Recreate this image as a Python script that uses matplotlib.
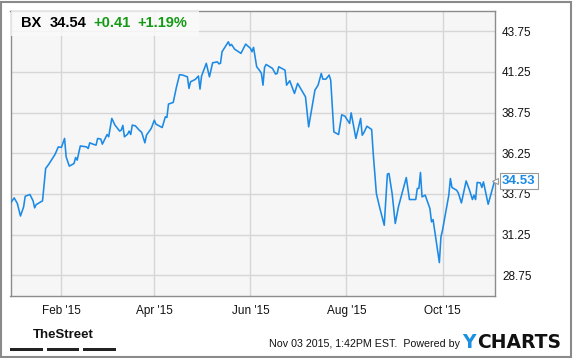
import matplotlib
matplotlib.use("Agg")
import matplotlib.pyplot as plt
import matplotlib.dates as mdates
import pandas as pd
from matplotlib.patches import Rectangle

# BX daily close
dates = [
    "2014-12-31", "2015-01-02", "2015-01-04", "2015-01-06", "2015-01-08", "2015-01-09",
    "2015-01-12", "2015-01-14", "2015-01-15", "2015-01-16", "2015-01-20", "2015-01-22",
    "2015-01-24", "2015-01-28", "2015-01-30", "2015-02-01", "2015-02-03", "2015-02-04",
    "2015-02-06", "2015-02-09", "2015-02-10", "2015-02-11", "2015-02-13", "2015-02-17",
    "2015-02-18", "2015-02-19", "2015-02-21", "2015-02-23", "2015-02-24", "2015-02-26",
    "2015-02-27", "2015-03-02", "2015-03-03", "2015-03-05", "2015-03-07", "2015-03-10",
    "2015-03-11", "2015-03-12", "2015-03-13", "2015-03-15", "2015-03-16", "2015-03-17",
    "2015-03-18", "2015-03-20", "2015-03-22", "2015-03-24", "2015-03-26", "2015-03-27",
    "2015-03-30", "2015-04-01", "2015-04-02", "2015-04-06", "2015-04-08", "2015-04-09",
    "2015-04-10", "2015-04-13", "2015-04-15", "2015-04-17", "2015-04-19", "2015-04-22",
    "2015-04-23", "2015-04-24", "2015-04-27", "2015-04-29", "2015-04-30", "2015-05-01",
    "2015-05-04", "2015-05-06", "2015-05-08", "2015-05-11", "2015-05-12", "2015-05-13",
    "2015-05-14", "2015-05-18", "2015-05-19", "2015-05-20", "2015-05-22", "2015-05-26",
    "2015-05-29", "2015-06-01", "2015-06-02", "2015-06-03", "2015-06-05", "2015-06-07",
    "2015-06-08", "2015-06-09", "2015-06-10", "2015-06-11", "2015-06-15", "2015-06-17",
    "2015-06-18", "2015-06-19", "2015-06-23", "2015-06-24", "2015-06-26", "2015-06-29",
    "2015-07-01", "2015-07-06", "2015-07-08", "2015-07-12", "2015-07-14", "2015-07-16",
    "2015-07-17", "2015-07-19", "2015-07-21", "2015-07-22", "2015-07-24", "2015-07-27",
    "2015-07-29", "2015-07-31", "2015-08-03", "2015-08-04", "2015-08-07", "2015-08-10",
    "2015-08-11", "2015-08-12", "2015-08-14", "2015-08-17", "2015-08-18", "2015-08-20",
    "2015-08-22", "2015-08-25", "2015-08-27", "2015-08-28", "2015-08-30", "2015-09-01",
    "2015-09-03", "2015-09-08", "2015-09-10", "2015-09-14", "2015-09-15", "2015-09-16",
    "2015-09-17", "2015-09-18", "2015-09-20", "2015-09-23", "2015-09-24", "2015-09-25",
    "2015-09-29", "2015-09-30", "2015-10-01", "2015-10-05", "2015-10-06", "2015-10-07",
    "2015-10-10", "2015-10-11", "2015-10-13", "2015-10-16", "2015-10-18", "2015-10-20",
    "2015-10-21", "2015-10-22", "2015-10-23", "2015-10-25", "2015-10-26", "2015-10-27",
    "2015-10-30", "2015-11-03",
]
prices = [
    33.23, 33.51, 33.17, 32.40, 32.96, 33.61,
    33.72, 33.33, 32.90, 33.10, 33.33, 35.32,
    35.58, 36.19, 36.64, 36.61, 37.16, 36.03,
    35.46, 35.62, 35.99, 35.83, 36.70, 36.64,
    36.54, 36.89, 36.81, 36.75, 37.16, 37.12,
    36.81, 37.40, 37.26, 38.39, 37.98, 37.61,
    37.67, 37.96, 37.26, 37.42, 37.61, 37.40,
    37.98, 37.93, 37.71, 37.53, 36.89, 37.36,
    37.77, 38.28, 38.04, 37.83, 38.49, 38.45,
    39.27, 39.37, 40.29, 41.07, 41.05, 40.94,
    40.23, 40.64, 40.78, 40.99, 40.19, 40.99,
    41.77, 40.94, 41.80, 41.86, 41.74, 41.77,
    42.48, 43.09, 42.85, 42.93, 42.64, 42.38,
    42.95, 42.69, 42.48, 42.75, 41.56, 41.31,
    41.15, 40.43, 41.52, 41.70, 41.46, 41.11,
    41.15, 41.56, 41.35, 40.43, 40.70, 39.92,
    40.54, 39.71, 37.87, 40.13, 40.43, 41.15,
    40.80, 40.80, 41.05, 40.74, 37.56, 37.40,
    38.61, 38.53, 38.08, 38.73, 37.16, 38.39,
    37.36, 37.50, 37.91, 37.71, 36.24, 33.78,
    32.96, 31.83, 34.97, 35.01, 33.78, 31.94,
    32.96, 34.76, 33.41, 33.41, 34.09, 34.09,
    35.07, 33.57, 33.68, 32.86, 32.04, 32.18,
    29.54, 31.11, 31.53, 33.68, 34.70, 34.15,
    33.98, 33.82, 33.20, 34.55, 34.03, 33.41,
    33.68, 33.41, 34.46, 34.43, 34.15, 34.49,
    33.12, 34.53,
]
yticks = [28.75, 31.25, 33.75, 36.25, 38.75, 41.25, 43.75]
xtick_dates = ["2015-02-01", "2015-04-01", "2015-06-01", "2015-08-01", "2015-10-01"]

ticker = "BX"
last_price = "34.54"
change = "+0.41"
change_pct = "+1.19%"
last_close_label = "34.53"
stamp = "Nov 03 2015, 1:42PM EST.  Powered by"

plt.rcParams['font.family'] = ['Liberation Sans', 'DejaVu Sans']

x = pd.to_datetime(dates)
blue = '#1b8ae6'
green = '#149a14'

fig = plt.figure(figsize=(5.75, 3.58), dpi=100)
ax = fig.add_axes([10.5/575, 62.5/358, 484.5/575, 284.8/358])
ax.set_facecolor('#f6f6f6')
ax.plot(x, prices, color=blue, lw=1.15, solid_joinstyle='round', zorder=3)

ax.set_xlim(pd.Timestamp("2014-12-30 16:00"), pd.Timestamp("2015-11-03 08:00"))
ax.set_ylim(27.52, 45.0)

ax.set_yticks(yticks)
ax.set_yticklabels(['%.2f' % v for v in yticks])
ax.yaxis.tick_right()
ax.set_xticks(pd.to_datetime(xtick_dates))
ax.xaxis.set_major_formatter(mdates.DateFormatter("%b '%y"))
ax.tick_params(axis='y', length=0, pad=5, labelsize=8.5, labelcolor='#111111')
ax.tick_params(axis='x', length=0, pad=7, labelsize=8.5, labelcolor='#111111')
ax.grid(True, color='#d6d6d6', lw=1, zorder=0)
for s in ax.spines.values():
    s.set_color('#8c8c8c')
    s.set_linewidth(1)

# header box
ax.add_patch(Rectangle((0, 1 - 25/284.8), 188/484.5, 25/284.8, transform=ax.transAxes,
                       facecolor='#fbfbfb', edgecolor='none', alpha=0.8, zorder=4))
ty = 1 - 12.5/284.8
hdr = dict(transform=ax.transAxes, va='center', ha='left', fontsize=10.5, fontweight='bold', zorder=5)
ax.text(10/484.5, ty, ticker, color='black', **hdr)
ax.text(39/484.5, ty, last_price, color='black', **hdr)
ax.text(83/484.5, ty, change, color=green, **hdr)
ax.text(127/484.5, ty, change_pct, color=green, **hdr)

# last price tag
ax.annotate(last_close_label, xy=(1, prices[-1]), xycoords=('axes fraction', 'data'),
            xytext=(5, 0), textcoords='offset points', va='center', ha='left',
            fontsize=9.5, fontweight='bold', color=blue, annotation_clip=False, zorder=6,
            bbox=dict(boxstyle='square,pad=0.15', fc='white', ec='#999999', lw=0.8))
ax.plot([1.0], [prices[-1]], marker='<', ms=5, mfc='white', mec='#999999', mew=0.8,
        transform=ax.get_yaxis_transform(), clip_on=False, zorder=7)

# footer
fig.text(63/575, 1 - 335/358, "TheStreet", ha='center', va='center', fontsize=9.5,
         fontweight='bold', color='#111111')
for x0, x1 in [(10, 42.7), (47, 79), (83.3, 115.7)]:
    fig.add_artist(Rectangle((x0/575, 1 - 350.5/358), (x1 - x0)/575, 3/358,
                             transform=fig.transFigure, facecolor='#222222', edgecolor='none'))
fig.text(460/575, 1 - 344/358, stamp, ha='right', va='center', fontsize=7.7, color='#111111')
fig.text(462/575, 1 - 343/358, "Y", ha='left', va='center', fontsize=13.5, fontweight='bold',
         family='DejaVu Sans', color='#1a90e0')
fig.text(477/575, 1 - 343/358, "CHARTS", ha='left', va='center', fontsize=13.5, fontweight='bold',
         family='DejaVu Sans', color='#111111')

# outer frame
fig.add_artist(Rectangle((1/575, 1/358), 570/575, 355/358, transform=fig.transFigure,
                         facecolor='none', edgecolor='#8a8a8a', lw=1.5))

fig.savefig('out.png', dpi=100)
